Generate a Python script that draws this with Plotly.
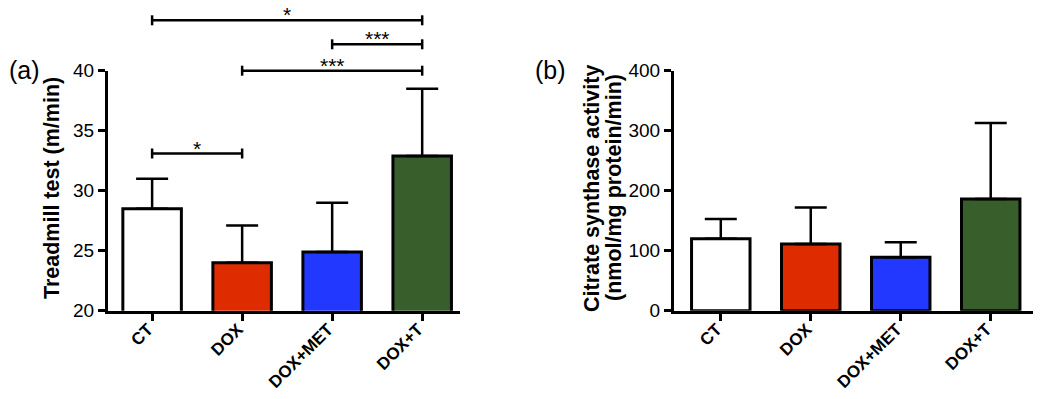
import plotly.graph_objects as go

# ---------------- data ----------------
categories = ["CT", "DOX", "DOX+MET", "DOX+T"]
treadmill_mean = [28.5, 24.0, 24.9, 32.9]
treadmill_sd = [2.5, 3.1, 4.1, 5.6]
cs_mean = [120, 111, 89, 186]
cs_sd = [33, 61, 25, 127]
bar_colors = ["#ffffff", "#de2c00", "#2338ff", "#385f2b"]
y1_ticks = [20, 25, 30, 35, 40]
y2_ticks = [0, 100, 200, 300, 400]
# significance brackets for panel (a): start group, end group, height (m/min), label
sig_from = [0, 2, 1, 0]
sig_to = [3, 3, 3, 1]
sig_height = [44.2, 42.2, 40.0, 33.1]
sig_label = ["*", "***", "***", "*"]

FONT = "Arial, Liberation Sans, Helvetica, sans-serif"
PAGE_W, PAGE_H = 1042, 399
BODY = 8  # default page body margin
W, H = PAGE_W - 2 * BODY, PAGE_H - 2 * BODY


def px(x):
    return min(1.0, max(0.0, (x - BODY) / W))


def py(y):
    return 1 - (y - BODY) / H


Y_DOM = [py(310.7), py(70.7)]
X1_DOM = [px(108), px(460)]
X2_DOM = [px(674), px(1033)]
Y1_RANGE = [20, 40]
Y2_RANGE = [0, 400]

fig = go.Figure()


def add_bars(means, sds, xa, ya):
    fig.add_trace(go.Bar(
        x=categories, y=means, xaxis=xa, yaxis=ya,
        width=0.65,
        marker=dict(color=bar_colors, line=dict(color="black", width=3)),
        error_y=dict(type="data", symmetric=False, array=sds,
                     arrayminus=[0] * len(sds), color="black",
                     thickness=2.5, width=16),
        showlegend=False, hoverinfo="skip",
    ))


add_bars(treadmill_mean, treadmill_sd, "x", "y")
add_bars(cs_mean, cs_sd, "x2", "y2")

axis_common = dict(
    showline=True, linecolor="black", linewidth=3,
    ticks="outside", ticklen=7, tickwidth=3, tickcolor="black",
    showgrid=False, zeroline=False, fixedrange=True, automargin=False,
)
xcommon = dict(axis_common, type="category", tickangle=-45,
               ticklabelstandoff=-8, ticklabelshift=-4,
               tickfont=dict(family=FONT, size=17, color="black", weight="bold"))
ycommon = dict(axis_common, tickfont=dict(family=FONT, size=19, color="black"))

fig.update_layout(
    template="none",
    width=W, height=H,
    margin=dict(l=0, r=0, t=0, b=0, autoexpand=False),
    paper_bgcolor="white", plot_bgcolor="white",
    font=dict(family=FONT, color="black"),
    xaxis=dict(xcommon, domain=X1_DOM, anchor="y", range=[-0.49, 3.42]),
    yaxis=dict(ycommon, domain=Y_DOM, anchor="x", range=Y1_RANGE,
               tickvals=y1_ticks),
    xaxis2=dict(xcommon, domain=X2_DOM, anchor="y2", range=[-0.52, 3.47]),
    yaxis2=dict(ycommon, domain=Y_DOM, anchor="x2", range=Y2_RANGE,
                tickvals=y2_ticks),
)

# significance brackets (panel a)
shapes = []
annotations = []
line = dict(color="black", width=2.5)
for a, b, h, lab in zip(sig_from, sig_to, sig_height, sig_label):
    yd = (h - Y1_RANGE[0]) / (Y1_RANGE[1] - Y1_RANGE[0])
    shapes.append(dict(type="line", xref="x", yref="y domain",
                       x0=categories[a], x1=categories[b], y0=yd, y1=yd, line=line))
    for c in (a, b):
        shapes.append(dict(type="line", xref="x", yref="y domain",
                           x0=categories[c], x1=categories[c],
                           ysizemode="pixel", yanchor=yd, y0=-5, y1=5, line=line))
    annotations.append(dict(
        xref="x", yref="y domain", x=(a + b) / 2, y=yd,
        text=lab, showarrow=False, yanchor="bottom", yshift=-8,
        font=dict(family=FONT, size=21, color="black"),
    ))

# y-axis titles
title_font = dict(family=FONT, size=21.5, color="black", weight="bold")
annotations.append(dict(xref="paper", yref="paper", x=px(52), y=py(188),
                        text="Treadmill test (m/min)", textangle=-90,
                        showarrow=False, xanchor="center", yanchor="middle",
                        font=title_font))
annotations.append(dict(xref="paper", yref="paper", x=px(592), y=py(189),
                        text="Citrate synthase activity", textangle=-90,
                        showarrow=False, xanchor="center", yanchor="middle",
                        font=title_font))
annotations.append(dict(xref="paper", yref="paper", x=px(614), y=py(188),
                        text="(nmol/mg protein/min)", textangle=-90,
                        showarrow=False, xanchor="center", yanchor="middle",
                        font=title_font))
# panel labels
label_font = dict(family=FONT, size=25, color="black")
annotations.append(dict(xref="paper", yref="paper", x=px(24), y=py(70),
                        text="(a)", showarrow=False, xanchor="center", yanchor="middle",
                        font=label_font))
annotations.append(dict(xref="paper", yref="paper", x=px(550), y=py(70),
                        text="(b)", showarrow=False, xanchor="center", yanchor="middle",
                        font=label_font))

fig.update_layout(shapes=shapes, annotations=annotations)
fig.write_html("out.html")
